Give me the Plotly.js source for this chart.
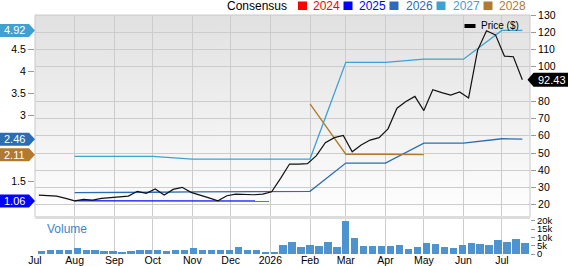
<!DOCTYPE html>
<html><head><meta charset="utf-8">
<script src="https://cdn.plot.ly/plotly-3.0.1.min.js"></script>
<style>html,body{margin:0;padding:0;background:#fff;}#chart{width:568px;height:266px;}</style>
</head><body><div id="chart"></div>
<script>
// ---------- data ----------
const weekDates = ['2025-07-04','2025-07-11','2025-07-18','2025-07-25','2025-08-01','2025-08-08','2025-08-15','2025-08-22','2025-08-29',
 '2025-09-05','2025-09-12','2025-09-19','2025-09-26','2025-10-03','2025-10-10','2025-10-17','2025-10-24','2025-10-31',
 '2025-11-07','2025-11-14','2025-11-21','2025-11-28','2025-12-05','2025-12-12','2025-12-19','2025-12-26',
 '2026-01-02','2026-01-09','2026-01-16','2026-01-23','2026-01-30','2026-02-06','2026-02-13','2026-02-20','2026-02-27',
 '2026-03-06','2026-03-13','2026-03-20','2026-03-27','2026-04-03','2026-04-10','2026-04-17','2026-04-24',
 '2026-05-01','2026-05-08','2026-05-15','2026-05-22','2026-05-29','2026-06-05','2026-06-12','2026-06-19','2026-06-26',
 '2026-07-03','2026-07-10','2026-07-17'];
const price = [25.6,25.3,25.0,23.7,22.3,23.1,22.7,23.7,24.0,24.3,25.0,27.8,26.6,29.1,25.6,28.9,30.1,27.2,25.8,24.0,22.3,25.2,26.2,26.0,25.8,26.2,27.5,
 35.3,43.6,43.6,43.8,48.5,56.0,58.9,60.2,50.7,54.6,57.5,58.9,64.0,76.0,79.8,82.8,74.6,86.7,85.0,83.6,85.4,81.9,109.5,120.9,118.5,106.2,105.8,92.43];
const volume = [2000,2600,2600,2400,3600,2600,2400,1800,1800,1200,1800,2200,2200,2400,1800,2200,2200,3400,2600,2200,2200,2400,4200,2600,2600,1200,1200,
 5600,7200,4200,5200,4800,7000,4000,19900,9400,4800,4800,5000,4800,5400,3000,4000,6800,6200,4200,3800,5200,6600,6000,5200,8200,7200,8800,6800];

const dates2025 = ['2025-08-01','2025-09-01','2025-10-01','2025-11-01','2025-12-01','2025-12-31'];
const cons2025  = [1.07,1.07,1.07,1.07,1.06,1.06];
const dates2026 = ['2025-08-01','2025-09-01','2025-10-01','2025-11-01','2025-12-01','2026-01-01','2026-02-01','2026-03-01','2026-04-01','2026-05-01','2026-06-01','2026-07-01','2026-07-17'];
const cons2026  = [1.25,1.25,1.26,1.27,1.27,1.28,1.28,1.92,1.92,2.37,2.37,2.47,2.46];
const dates2027 = ['2025-08-01','2025-09-01','2025-10-01','2025-11-01','2025-12-01','2026-01-01','2026-02-01','2026-03-01','2026-04-01','2026-05-01','2026-06-01','2026-07-01','2026-07-17'];
const cons2027  = [2.07,2.07,2.07,2.01,2.01,2.01,2.01,4.20,4.20,4.27,4.27,4.92,4.92];
const dates2028 = ['2026-02-01','2026-03-01','2026-04-01','2026-05-01'];
const cons2028  = [3.26,2.12,2.12,2.11];

const monthTicks  = ['2025-07-01','2025-08-01','2025-09-01','2025-10-01','2025-11-01','2025-12-01','2026-01-01','2026-02-01','2026-03-01','2026-04-01','2026-05-01','2026-06-01','2026-07-01'];
const monthLabels = ['Jul','Aug','Sep','Oct','Nov','Dec','2026','Feb','Mar','Apr','May','Jun','Jul'];
const legendYears = ['2024','2025','2026','2027','2028'];
const epsTicks  = [1.5,3,3.5,4,4.5];
const priceTicks = [20,30,40,50,60,70,80,100,110,120,130];
const volTicks  = [0,5000,10000,15000,20000];
const volLabels = ['0','5k','10k','15k','20k'];

// ---------- styling / layout ----------
const C = {y2024:'#ff0000', y2025:'#0000ff', y2026:'#2b6cb5', y2027:'#3fa1d1', y2028:'#b07a2f'};
const yearColors = [C.y2024,C.y2025,C.y2026,C.y2027,C.y2028];
const W=568,H=266,L=35,R=38,T=15,B=12, PW=W-L-R, PH=H-T-B;
const px2x = px => (px-L)/PW;
const py2y = py => (H-B-py)/PH;
const mainBottom = py2y(217), volTop = py2y(218);
const epsRange=[0.70,5.27], priceRange=[12.9,130], volRange=[0,21600];
const mainPx = 217-T;
const epsPerPx = (epsRange[1]-epsRange[0])/mainPx;
const pricePerPx = (priceRange[1]-priceRange[0])/mainPx;
const FONT = 'Liberation Sans, Arial, sans-serif';

function gradientURL(){
  const c=document.createElement('canvas'); c.width=4; c.height=256;
  const g=c.getContext('2d'); const gr=g.createLinearGradient(0,0,0,256);
  gr.addColorStop(0,'#e1e1e1'); gr.addColorStop(1,'#ffffff');
  g.fillStyle=gr; g.fillRect(0,0,4,256); return c.toDataURL();
}

const traces = [
  {x:dates2026,y:cons2026,type:'scatter',mode:'lines',line:{color:C.y2026,width:1.3},yaxis:'y',xaxis:'x'},
  {x:dates2027,y:cons2027,type:'scatter',mode:'lines',line:{color:C.y2027,width:1.3},yaxis:'y',xaxis:'x'},
  {x:dates2028,y:cons2028,type:'scatter',mode:'lines',line:{color:C.y2028,width:1.3},yaxis:'y',xaxis:'x'},
  {x:dates2025,y:cons2025,type:'scatter',mode:'lines',line:{color:C.y2025,width:1.5},opacity:0.8,yaxis:'y',xaxis:'x'},
  {x:weekDates,y:price,type:'scatter',mode:'lines',line:{color:'#111111',width:1.2},yaxis:'y2',xaxis:'x'},
  {x:weekDates,y:volume,type:'bar',marker:{color:'#4d93cf',line:{width:0}},width:5.7*864e5,offset:-0.85*864e5,yaxis:'y3',xaxis:'x'}
];

const shapes = [
  {type:'rect',xref:'paper',yref:'paper',x0:0,x1:1,y0:mainBottom,y1:1,line:{color:'#c8c8c8',width:1},layer:'below'},
  {type:'line',xref:'paper',yref:'paper',x0:0,x1:1,y0:py2y(217.5),y1:py2y(217.5),line:{color:'#dcdcdc',width:3},layer:'above'},
  {type:'rect',xref:'paper',yref:'paper',x0:px2x(464.5),x1:px2x(475.5),y0:py2y(28),y1:py2y(24),fillcolor:'#000',line:{width:0}}
];
const sqX=[298,343.5,389.5,436.5,483.5], txtX=[311,357,404,451,497];
const annotations = [
  {xref:'paper',yref:'paper',x:px2x(225),y:py2y(6.5),xanchor:'left',yanchor:'middle',text:'Consensus',showarrow:false,font:{family:FONT,size:12,color:'#000'}},
  {xref:'paper',yref:'paper',x:px2x(479),y:py2y(26),xanchor:'left',yanchor:'middle',text:'Price ($)',showarrow:false,font:{family:FONT,size:10,color:'#000'}},
  {xref:'paper',yref:'paper',x:px2x(45),y:py2y(228.5),xanchor:'left',yanchor:'middle',text:'Volume',showarrow:false,font:{family:FONT,size:12,color:'#3a87c8'}}
];
legendYears.forEach((yr,i)=>{
  shapes.push({type:'rect',xref:'paper',yref:'paper',x0:px2x(sqX[i]),x1:px2x(sqX[i]+9),y0:py2y(10),y1:py2y(1.5),fillcolor:yearColors[i],line:{width:0}});
  annotations.push({xref:'paper',yref:'paper',x:px2x(txtX[i]),y:py2y(6.5),xanchor:'left',yanchor:'middle',text:yr,showarrow:false,font:{family:FONT,size:12,color:yearColors[i]}});
});

// EPS tags on the left
const epsTags = [[cons2027,C.y2027],[cons2026,C.y2026],[cons2028,C.y2028],[cons2025,C.y2025]];
epsTags.forEach(([arr,col])=>{
  const v = arr[arr.length-1], h = 6.5*epsPerPx;
  const x0=px2x(0), x1=px2x(29), x2=px2x(35);
  shapes.push({type:'path',xref:'paper',yref:'y',layer:'above',fillcolor:col,line:{width:0},
    path:`M ${x0},${v-h} L ${x1},${v-h} L ${x2},${v} L ${x1},${v+h} L ${x0},${v+h} Z`});
  annotations.push({xref:'paper',yref:'y',x:px2x(14.5),y:v,text:v.toFixed(2),showarrow:false,xanchor:'center',yanchor:'middle',font:{family:FONT,size:11,color:'#fff'}});
});
// price tag on the right
(function(){
  const v = price[price.length-1], h = 7*pricePerPx;
  const x0=px2x(527.5), x1=px2x(533.5), x2=px2x(570);
  shapes.push({type:'path',xref:'paper',yref:'y2',layer:'above',fillcolor:'#000',line:{width:0},
    path:`M ${x0},${v} L ${x1},${v-h} L ${x2},${v-h} L ${x2},${v+h} L ${x1},${v+h} Z`});
  annotations.push({xref:'paper',yref:'y2',x:px2x(551.5),y:v,text:v.toFixed(2),showarrow:false,xanchor:'center',yanchor:'middle',font:{family:FONT,size:11,color:'#fff'}});
})();

const layout = {
  width:W,height:H,margin:{l:L,r:R,t:T,b:B},
  paper_bgcolor:'#ffffff',plot_bgcolor:'rgba(0,0,0,0)',
  showlegend:false,hovermode:false,
  font:{family:FONT,size:10,color:'#000'},
  xaxis:{type:'date',range:['2025-07-01','2026-07-23'],anchor:'y3',tickvals:monthTicks,ticktext:monthLabels,
    showgrid:true,gridcolor:'#cccccc',gridwidth:1,ticks:'',showline:false,zeroline:false,ticklabelstandoff:-2,
    tickfont:{size:10.5,color:'#000'}},
  yaxis:{domain:[mainBottom,1],range:epsRange,side:'left',tickvals:epsTicks,ticktext:epsTicks.map(String),
    showgrid:false,zeroline:false,showline:false,ticks:'outside',ticklen:6,tickcolor:'#999',tickfont:{size:10.5,color:'#000'}},
  yaxis2:{overlaying:'y',side:'right',range:priceRange,tickvals:priceTicks,ticktext:priceTicks.map(String),
    showgrid:true,gridcolor:'#cccccc',zeroline:false,showline:false,ticks:'outside',ticklen:5,tickcolor:'#999',tickfont:{size:10.5,color:'#000'}},
  yaxis3:{domain:[0,volTop],range:volRange,side:'right',tickvals:volTicks,ticktext:volLabels,
    showgrid:false,zeroline:false,showline:false,ticks:'outside',ticklen:4,tickcolor:'#999',tickfont:{size:9.5,color:'#000'}},
  bargap:0,
  images:[{source:gradientURL(),xref:'paper',yref:'paper',x:0,y:1,sizex:1,sizey:1-mainBottom,sizing:'stretch',xanchor:'left',yanchor:'top',layer:'below'}],
  shapes:shapes,annotations:annotations
};
Plotly.newPlot('chart',traces,layout,{staticPlot:true,displayModeBar:false});
</script></body></html>
